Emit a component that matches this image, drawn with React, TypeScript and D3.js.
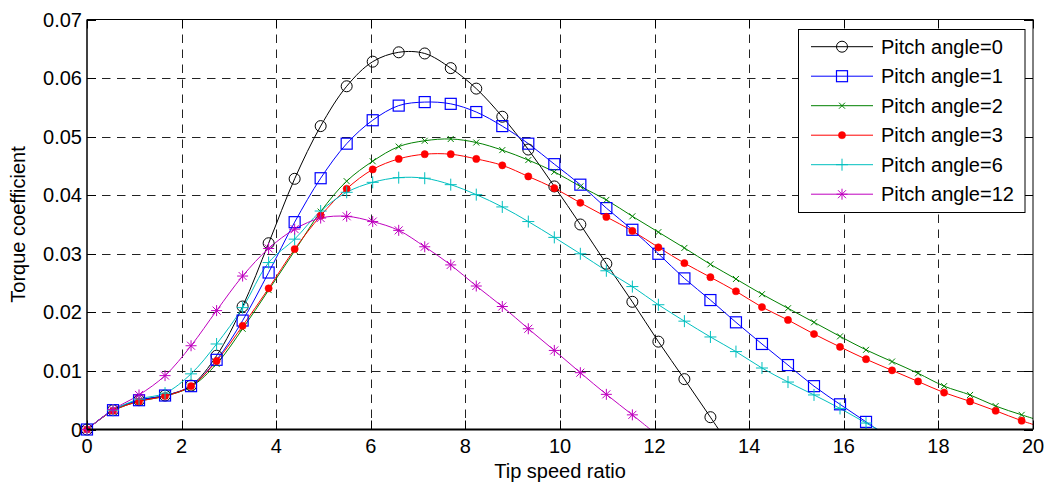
import React from "react";
import * as d3 from "d3";

const tsr = [0, 0.55, 1.1, 1.65, 2.2, 2.74, 3.29, 3.84, 4.39, 4.94, 5.49, 6.04, 6.59, 7.14, 7.69, 8.23, 8.78, 9.33, 9.88, 10.43, 10.98, 11.53, 12.08, 12.63, 13.18, 13.72, 14.27, 14.82, 15.37, 15.92, 16.47, 17.02, 17.57, 18.12, 18.67, 19.21, 19.76, 20.31];

const pitch0 = [0, 0.0033, 0.0050, 0.0058, 0.0075, 0.0126, 0.0210, 0.0318, 0.0428, 0.0518, 0.0586, 0.0628, 0.0644, 0.0642, 0.0617, 0.0582, 0.0534, 0.0478, 0.0415, 0.0350, 0.0283, 0.0218, 0.0150, 0.0086, 0.0021, -0.0044];
const pitch1 = [0, 0.0033, 0.0050, 0.0058, 0.0074, 0.0119, 0.0186, 0.0268, 0.0354, 0.0429, 0.0488, 0.0528, 0.0553, 0.0559, 0.0556, 0.0542, 0.0518, 0.0488, 0.0453, 0.0418, 0.0378, 0.0341, 0.0300, 0.0258, 0.0221, 0.0183, 0.0146, 0.0110, 0.0074, 0.0043, 0.0013, -0.0017];
const pitch2 = [0, 0.0032, 0.0048, 0.0057, 0.0073, 0.0112, 0.0172, 0.0238, 0.0305, 0.0372, 0.0424, 0.0458, 0.0483, 0.0493, 0.0496, 0.0490, 0.0477, 0.0460, 0.0440, 0.0415, 0.0392, 0.0364, 0.0337, 0.0310, 0.0282, 0.0257, 0.0231, 0.0207, 0.0183, 0.0159, 0.0136, 0.0116, 0.0096, 0.0074, 0.0059, 0.0040, 0.0025, 0.0011];
const pitch3 = [0, 0.0032, 0.0048, 0.0057, 0.0074, 0.0117, 0.0177, 0.0241, 0.0308, 0.0365, 0.0411, 0.0444, 0.0462, 0.0470, 0.0470, 0.0462, 0.0451, 0.0432, 0.0412, 0.0387, 0.0363, 0.0339, 0.0311, 0.0284, 0.0260, 0.0236, 0.0209, 0.0187, 0.0163, 0.0141, 0.0120, 0.0101, 0.0082, 0.0063, 0.0048, 0.0032, 0.0015, 0.0001];
const pitch6 = [0, 0.0033, 0.0052, 0.0062, 0.0095, 0.0146, 0.0208, 0.0285, 0.0325, 0.0373, 0.0405, 0.0422, 0.0430, 0.0429, 0.0418, 0.0401, 0.0380, 0.0355, 0.0328, 0.0300, 0.0271, 0.0244, 0.0213, 0.0185, 0.0158, 0.0133, 0.0105, 0.0081, 0.0059, 0.0036, 0.0011, -0.0013];
const pitch12 = [0, 0.0034, 0.0059, 0.0092, 0.0143, 0.0203, 0.0262, 0.0309, 0.0342, 0.0361, 0.0364, 0.0355, 0.0340, 0.0312, 0.0281, 0.0245, 0.0210, 0.0172, 0.0135, 0.0097, 0.0060, 0.0025, -0.0011];

const seriesNames = ["Pitch angle=0", "Pitch angle=1", "Pitch angle=2", "Pitch angle=3", "Pitch angle=6", "Pitch angle=12"];
const seriesValues = [pitch0, pitch1, pitch2, pitch3, pitch6, pitch12];
const seriesColors = ["#000000", "#0000ff", "#008000", "#ff0000", "#00bfbf", "#bf00bf"];
const seriesMarkers = ["circle", "square", "x", "dot", "plus", "star"];

const xTicks = [0, 2, 4, 6, 8, 10, 12, 14, 16, 18, 20];
const yTicks = [0, 0.01, 0.02, 0.03, 0.04, 0.05, 0.06, 0.07];
const yTickLabels = ["0", "0.01", "0.02", "0.03", "0.04", "0.05", "0.06", "0.07"];

const W = 1048, H = 485;
const L = 87, R = 1033, T = 19.5, B = 429.5;
const FONT = "Liberation Sans, Arial, Helvetica, sans-serif";

function Marker({ type, color }: { type: string; color: string }) {
  switch (type) {
    case "circle":
      return <circle r={5.5} fill="none" stroke={color} strokeWidth={1} />;
    case "square":
      return <rect x={-5.5} y={-5.5} width={11} height={11} fill="none" stroke={color} strokeWidth={1.2} />;
    case "x":
      return <path d="M-3,-3L3,3M-3,3L3,-3" stroke={color} strokeWidth={1} fill="none" />;
    case "dot":
      return <circle r={3.6} fill={color} stroke={color} strokeWidth={0.5} />;
    case "plus":
      return <path d="M-6,0H6M0,-6V6" stroke={color} strokeWidth={1} fill="none" />;
    case "star":
      return <path d="M-5.5,0H5.5M0,-5.5V5.5M-4,-4L4,4M-4,4L4,-4" stroke={color} strokeWidth={1} fill="none" />;
    default:
      return null;
  }
}

export default function App() {
  const x = d3.scaleLinear().domain([0, 20]).range([L, R]);
  const y = d3.scaleLinear().domain([0, 0.07]).range([B, T]);
  const line = d3
    .line<number>()
    .x((_, i) => x(tsr[i]))
    .y((d) => y(d))
    .curve(d3.curveCatmullRom.alpha(0.5));

  const legX = 798.5, legY = 29.5, legW = 226.5, legH = 183;
  const rowY0 = 46.7, rowDy = 29.5;

  return (
    <div style={{ position: "fixed", left: 0, top: 0 }}>
      <svg width={W} height={H} style={{ display: "block", background: "#fff" }}>
        <defs>
          <clipPath id="plotclip">
            <rect x={L} y={T} width={R - L} height={B - T} />
          </clipPath>
        </defs>
        <rect x={0} y={0} width={W} height={H} fill="#fff" />
        {/* grid */}
        <g stroke="#222" strokeWidth={1} strokeDasharray="8.5,6.5" fill="none">
          {xTicks.slice(1, -1).map((t) => (
            <line key={"gx" + t} x1={Math.round(x(t)) + 0.5} x2={Math.round(x(t)) + 0.5} y1={T} y2={B} />
          ))}
          {yTicks.slice(1, -1).map((t) => (
            <line key={"gy" + t} x1={L} x2={R} y1={Math.round(y(t)) + 0.5} y2={Math.round(y(t)) + 0.5} />
          ))}
        </g>
        {/* ticks */}
        <g stroke="#000" strokeWidth={1}>
          {xTicks.map((t) => (
            <g key={"tx" + t}>
              <line x1={Math.round(x(t)) + 0.5} x2={Math.round(x(t)) + 0.5} y1={B} y2={B - 9} />
              <line x1={Math.round(x(t)) + 0.5} x2={Math.round(x(t)) + 0.5} y1={T} y2={T + 9} />
            </g>
          ))}
          {yTicks.map((t) => (
            <g key={"ty" + t}>
              <line x1={L} x2={L + 9} y1={Math.round(y(t)) + 0.5} y2={Math.round(y(t)) + 0.5} />
              <line x1={R} x2={R - 9} y1={Math.round(y(t)) + 0.5} y2={Math.round(y(t)) + 0.5} />
            </g>
          ))}
        </g>
        {/* series lines */}
        <g clipPath="url(#plotclip)">
          {seriesValues.map((vals, si) => (
            <path key={"l" + si} d={line(vals) || ""} fill="none" stroke={seriesColors[si]} strokeWidth={1} />
          ))}
        </g>
        {/* markers */}
        {seriesValues.map((vals, si) => (
          <g key={"m" + si}>
            {vals.map((v, i) =>
              v >= 0 && tsr[i] <= 20 ? (
                <g key={i} transform={`translate(${x(tsr[i])},${y(v)})`}>
                  <Marker type={seriesMarkers[si]} color={seriesColors[si]} />
                </g>
              ) : null
            )}
          </g>
        ))}
        {/* axes box */}
        <line x1={L} x2={R} y1={T} y2={T} stroke="#000" strokeWidth={1} />
        <line x1={R} x2={R} y1={T} y2={B} stroke="#000" strokeWidth={1} />
        <line x1={L} x2={L} y1={T} y2={B} stroke="#000" strokeWidth={1.5} />
        <line x1={L} x2={R} y1={B} y2={B} stroke="#000" strokeWidth={2.2} />
        {/* tick labels */}
        <g fontFamily={FONT} fontSize={20} fill="#000">
          {xTicks.map((t) => (
            <text key={"xl" + t} x={x(t)} y={453} textAnchor="middle">
              {String(t)}
            </text>
          ))}
          {yTicks.map((t, i) => (
            <text key={"yl" + t} x={82} y={y(t) + 7} textAnchor="end">
              {yTickLabels[i]}
            </text>
          ))}
          <text x={(L + R) / 2} y={477.5} textAnchor="middle">
            Tip speed ratio
          </text>
          <text transform={`translate(25,${(T + B) / 2}) rotate(-90)`} textAnchor="middle">
            Torque coefficient
          </text>
        </g>
        {/* legend */}
        <g>
          <rect x={legX} y={legY} width={legW} height={legH} fill="#fff" stroke="#000" strokeWidth={1} />
          {seriesNames.map((name, si) => {
            const ry = rowY0 + si * rowDy;
            return (
              <g key={"lg" + si}>
                <line x1={811} x2={873} y1={ry} y2={ry} stroke={seriesColors[si]} strokeWidth={1} />
                <g transform={`translate(842,${ry})`}>
                  <Marker type={seriesMarkers[si]} color={seriesColors[si]} />
                </g>
                <text x={881} y={ry + 7} fontFamily={FONT} fontSize={20} fill="#000">
                  {name}
                </text>
              </g>
            );
          })}
        </g>
      </svg>
    </div>
  );
}
